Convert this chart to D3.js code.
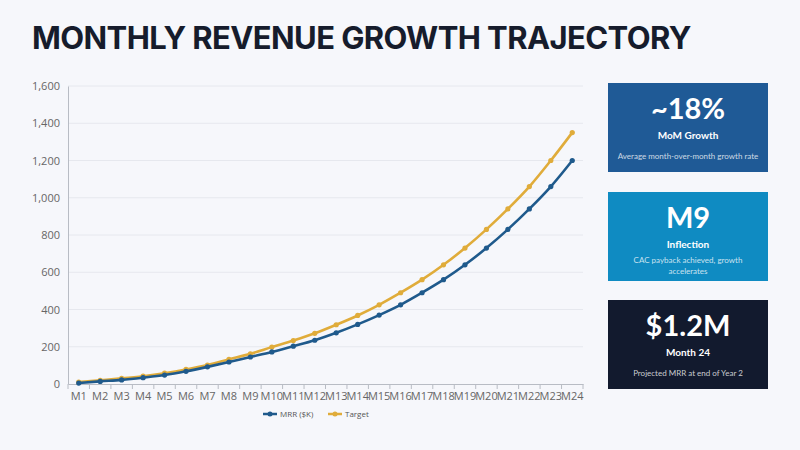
<!DOCTYPE html>
<html><head><meta charset="utf-8">
<script src="https://cdn.jsdelivr.net/npm/d3@7"></script>
<style>body{margin:0;background:#f6f7fb;}svg{display:block}</style>
</head><body><svg id="c" width="800" height="450"></svg>
<script>
const months = d3.range(1,25).map(i=>"M"+i);
const mrr = [5,14,22,34,48,68,92,118,145,172,203,235,275,320,370,425,490,560,640,730,830,940,1060,1200];
const target = [10,20,30,42,58,78,102,132,162,198,233,272,318,368,425,490,560,640,730,830,940,1060,1200,1350];
const yTicks = [0,200,400,600,800,1000,1200,1400,1600];
const cards = [
 {big:"~18%",sub:"MoM Growth",desc:["Average month-over-month growth rate"],color:"#1f5a96"},
 {big:"M9",sub:"Inflection",desc:["CAC payback achieved, growth","accelerates"],color:"#0f8bc2"},
 {big:"$1.2M",sub:"Month 24",desc:["Projected MRR at end of Year 2"],color:"#121a2e"}
];
const svg=d3.select("#c");
svg.append("rect").attr("width",800).attr("height",450).attr("fill","#f6f7fb");
svg.append("text").attr("x",32).attr("y",49).text("MONTHLY REVENUE GROWTH TRAJECTORY")
 .attr("font-family","Inter, 'Open Sans', sans-serif").attr("font-weight",700).attr("font-size",31)
 .attr("fill","#161c2c").attr("letter-spacing",-0.6);
const L=68,R=583,T=86,B=384;
const x=d3.scaleBand().domain(months).range([L,R]);
const y=d3.scaleLinear().domain([0,1600]).range([B,T]);
const g=svg.append("g");
g.selectAll("line.grid").data(yTicks.slice(1)).join("line").attr("x1",L).attr("x2",R)
 .attr("y1",d=>y(d)).attr("y2",d=>y(d)).attr("stroke","#e6e8ee").attr("stroke-width",1);
const ya=g.append("g").attr("transform",`translate(${L},0)`).call(d3.axisLeft(y).tickValues(yTicks).tickSize(0).tickPadding(8));
ya.select(".domain").attr("stroke","#b8bcc4");
const xa=g.append("g").attr("transform",`translate(0,${B})`).call(d3.axisBottom(x).tickSize(0).tickPadding(8));
xa.select(".domain").attr("stroke","#b8bcc4");
g.selectAll(".xt").data(months).join("line").attr("x1",d=>x(d)).attr("x2",d=>x(d)).attr("y1",B).attr("y2",B+5).attr("stroke","#b8bcc4");
g.append("line").attr("x1",R).attr("x2",R).attr("y1",B).attr("y2",B+5).attr("stroke","#b8bcc4");
g.selectAll(".tick text").attr("font-family","'Open Sans', sans-serif").attr("font-size",11).attr("fill","#666");
const line=d3.line().x((d,i)=>x(months[i])+x.bandwidth()/2).y(d=>y(d)).curve(d3.curveMonotoneX);
[[target,"#e0ac3a"],[mrr,"#1f5a8c"]].forEach(([s,c])=>{
 g.append("path").datum(s).attr("d",line).attr("fill","none").attr("stroke",c).attr("stroke-width",2.6);
 g.selectAll(null).data(s).join("circle").attr("cx",(d,i)=>x(months[i])+x.bandwidth()/2).attr("cy",d=>y(d)).attr("r",2.6).attr("fill",c);
});
const leg=[["MRR ($K)","#1f5a8c",263],["Target","#e0ac3a",328]];
leg.forEach(([t,c,lx])=>{
 svg.append("line").attr("x1",lx).attr("x2",lx+14).attr("y1",414).attr("y2",414).attr("stroke",c).attr("stroke-width",2.5);
 svg.append("circle").attr("cx",lx+7).attr("cy",414).attr("r",2.5).attr("fill",c);
 svg.append("text").attr("x",lx+17).attr("y",417).text(t).attr("font-family","'Open Sans', sans-serif").attr("font-size",8).attr("fill","#555");
});
const cy0=[83,192,300];
cards.forEach((c,i)=>{
 const cg=svg.append("g").attr("transform",`translate(608,${cy0[i]})`);
 cg.append("rect").attr("width",160).attr("height",89).attr("fill",c.color);
 const ff="Lato, 'Open Sans', sans-serif";
 cg.append("text").attr("x",80).attr("y",36).attr("text-anchor","middle").text(c.big).attr("font-family",ff).attr("font-weight",700).attr("font-size",29).attr("fill","#fff");
 cg.append("text").attr("x",80).attr("y",56).attr("text-anchor","middle").text(c.sub).attr("font-family",ff).attr("font-weight",700).attr("font-size",10).attr("fill","#fff");
 c.desc.forEach((d,j)=>cg.append("text").attr("x",80).attr("y",(c.desc.length>1?71:76)+j*11).attr("text-anchor","middle").text(d).attr("font-family",ff).attr("font-size",8).attr("fill","rgba(255,255,255,0.78)"));
});
</script></body></html>
